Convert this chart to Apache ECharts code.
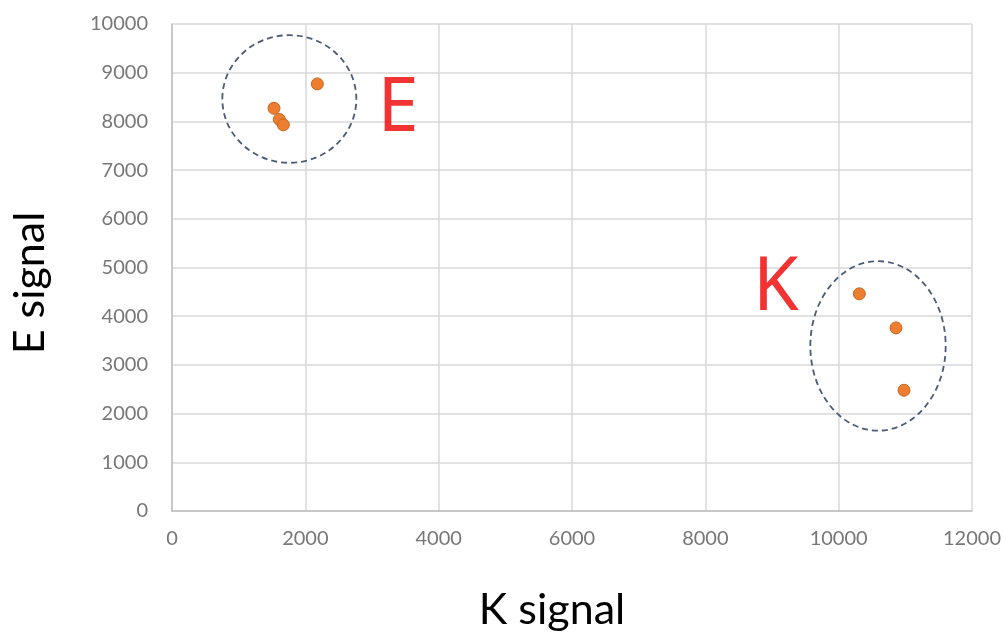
<!DOCTYPE html>
<html><head><meta charset="utf-8">
<script src="https://cdn.jsdelivr.net/npm/echarts@6/dist/echarts.min.js"></script>
<style>html,body{margin:0;padding:0;background:#fff}#c{width:1007px;height:639px}</style>
</head><body><div id="c"></div>
<script>
// Data points (K signal, E signal)
const kSignal = [2180, 1530, 1610, 1670, 10310, 10860, 10980];
const eSignal = [8770, 8270, 8040, 7930, 4460, 3760, 2480];
// Cluster ellipses: center x, center y, radius x, radius y (data units)
const clusterNames = ['E', 'K'];
const clusterCx = [1760, 10590];
const clusterCy = [8460, 3390];
const clusterRx = [1005, 1015];
const clusterRy = [1310, 1740];
// Cluster labels positions (data units)
const labelX = [3390, 9060];
const labelY = [8240, 4570];
// Axis settings
const xMax = 12000, xStep = 2000, yMax = 10000, yStep = 1000;

const points = kSignal.map((k, i) => [k, eSignal[i]]);
const ellipses = clusterNames.map((n, i) => [clusterCx[i], clusterCy[i], clusterRx[i], clusterRy[i]]);
const labels = clusterNames.map((n, i) => ({ value: [labelX[i], labelY[i]], name: n }));

const chart = echarts.init(document.getElementById('c'));
chart.setOption({
  animation: false,
  grid: { left: 172, right: 35, top: 24, bottom: 128 },
  xAxis: {
    type: 'value', min: 0, max: xMax, interval: xStep,
    name: 'K signal', nameLocation: 'middle', nameGap: 78,
    nameTextStyle: { fontFamily: 'Lato', fontSize: 43, color: '#000', padding: [0, 40, 0, 0] },
    axisLine: { show: true, lineStyle: { color: '#bfbfbf', width: 1.5 } },
    axisTick: { show: false },
    axisLabel: { fontFamily: 'Lato', fontSize: 20, color: '#777', margin: 18, formatter: v => String(v) },
    splitLine: { show: true, lineStyle: { color: '#d9d9d9', width: 1.5 } }
  },
  yAxis: {
    type: 'value', min: 0, max: yMax, interval: yStep,
    name: 'E signal', nameLocation: 'middle', nameGap: 120,
    nameTextStyle: { fontFamily: 'Lato', fontSize: 43, color: '#000', padding: [0, 31, 0, 0] },
    axisLine: { show: true, lineStyle: { color: '#bfbfbf', width: 1.5 } },
    axisTick: { show: false },
    axisLabel: { fontFamily: 'Lato', fontSize: 20, color: '#777', margin: 24, formatter: v => String(v) },
    splitLine: { show: true, lineStyle: { color: '#d9d9d9', width: 1.5 } }
  },
  series: [
    {
      type: 'custom',
      data: ellipses,
      silent: true,
      z: 3,
      renderItem: function (params, api) {
        const c = api.coord([api.value(0), api.value(1)]);
        const s = api.size([api.value(2), api.value(3)]);
        return {
          type: 'ellipse',
          shape: { cx: c[0], cy: c[1], rx: s[0], ry: s[1] },
          style: { fill: 'none', stroke: '#4a5b78', lineWidth: 1.8, lineDash: [6, 4] }
        };
      }
    },
    {
      type: 'scatter',
      data: points,
      symbolSize: 12,
      z: 5,
      itemStyle: { color: '#ED7D31', borderColor: '#C9651F', borderWidth: 1, opacity: 1 }
    },
    {
      type: 'scatter',
      data: labels,
      symbolSize: 0,
      z: 6,
      label: {
        show: true, position: 'inside', formatter: '{b}',
        fontFamily: 'Noto Sans', fontSize: 74, color: '#ee0000'
      }
    }
  ]
});
</script></body></html>
